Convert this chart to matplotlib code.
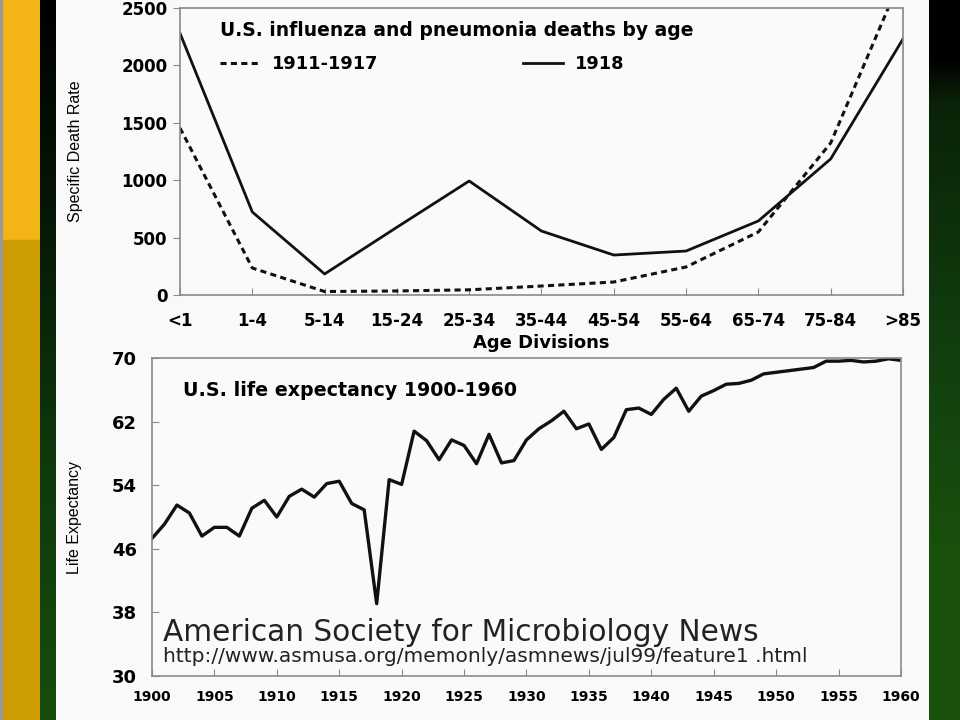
import numpy as np
import matplotlib
matplotlib.use("Agg")
import matplotlib.pyplot as plt
from matplotlib.patches import Rectangle
from matplotlib.colors import LinearSegmentedColormap

# influenza / pneumonia specific death rate by age group
age_groups = ['<1', '1-4', '5-14', '15-24', '25-34', '35-44', '45-54',
              '55-64', '65-74', '75-84', '>85']
deaths_1911_1917 = [1455, 235, 30, 35, 45, 78, 113, 244, 549, 1324, 2800]
deaths_1918 = [2280, 723, 183, 590, 993, 557, 348, 383, 645, 1185, 2230]

# US life expectancy 1900-1960
years = list(range(1900, 1961))
life_exp = [47.3, 49.1, 51.5, 50.5, 47.6, 48.7, 48.7, 47.6, 51.1, 52.1,
            50.0, 52.6, 53.5, 52.5, 54.2, 54.5, 51.7, 50.9, 39.1, 54.7,
            54.1, 60.8, 59.6, 57.2, 59.7, 59.0, 56.7, 60.4, 56.8, 57.1,
            59.7, 61.1, 62.1, 63.3, 61.1, 61.7, 58.5, 60.0, 63.5, 63.7,
            62.9, 64.8, 66.2, 63.3, 65.2, 65.9, 66.7, 66.8, 67.2, 68.0,
            68.2, 68.4, 68.6, 68.8, 69.6, 69.6, 69.7, 69.5, 69.6, 69.9,
            69.7]
year_ticks = list(range(1900, 1961, 5))
life_ticks = [30, 38, 46, 54, 62, 70]

BOLD = 'DejaVu Sans'
PLAIN = 'Liberation Sans'

fig = plt.figure(figsize=(9.6, 7.2), dpi=100)

# slide background
bg = fig.add_axes([0, 0, 1, 1], zorder=-5)
bg.axis('off')
bg.add_patch(Rectangle((0, 0), 960, 720, color='#f9f9f9', zorder=0))
bg.add_patch(Rectangle((0, 0), 40, 240, color='#f2b515', zorder=1))
bg.add_patch(Rectangle((0, 240), 40, 480, color='#cc9c00', zorder=1))
bg.add_patch(Rectangle((0, 0), 1.5, 720, color='#999999', zorder=1))
left_green = LinearSegmentedColormap.from_list(
    'lg', [(0, '#000000'), (0.3, '#061806'), (0.65, '#0f3a0c'),
           (1, '#174d0c')])
right_green = LinearSegmentedColormap.from_list(
    'rg', [(0, '#000000'), (0.08, '#000000'), (0.14, '#0a2208'),
           (0.5, '#124010'), (0.8, '#1a520c'), (1, '#1a520c')])
grad = np.linspace(0, 1, 256).reshape(-1, 1)
bg.imshow(grad, extent=(40, 56, 720, 0), aspect='auto', cmap=left_green,
          zorder=2)
bg.imshow(grad, extent=(929, 960, 720, 0), aspect='auto', cmap=right_green,
          zorder=2)
bg.set_xlim(0, 960)
bg.set_ylim(720, 0)


def style(ax):
    ax.set_facecolor('#fafafa')
    for s in ax.spines.values():
        s.set_color('#8a8a8a')
        s.set_linewidth(1.2)


# --- top: deaths by age ---
ax1 = fig.add_axes([0.1875, 0.5903, 0.7531, 0.3986])
style(ax1)
x = np.arange(len(age_groups))
ax1.plot(x, deaths_1911_1917, color='#111111', lw=2.2, ls=(0, (2.0, 1.4)),
         label='1911-1917')
ax1.plot(x, deaths_1918, color='#111111', lw=2.0, label='1918')
ax1.set_xlim(0, len(age_groups) - 1)
ax1.set_ylim(0, 2500)
ax1.set_xticks(x)
ax1.set_xticklabels(age_groups)
ax1.set_yticks([0, 500, 1000, 1500, 2000, 2500])
ax1.tick_params(axis='x', direction='in', length=5, color='#8a8a8a', pad=12,
                labelsize=12)
ax1.tick_params(axis='y', direction='out', length=5, color='#8a8a8a', pad=4,
                labelsize=12)
for lab in ax1.get_xticklabels() + ax1.get_yticklabels():
    lab.set_fontweight('bold')
    lab.set_family(BOLD)
ax1.set_xlabel('Age Divisions', fontsize=13, fontweight='bold',
               family=BOLD, labelpad=3)
ax1.set_ylabel('Specific Death Rate', fontsize=11.5, family=PLAIN)
ax1.yaxis.set_label_coords(-0.134, 0.502)
ax1.text(0.055, 0.923, 'U.S. influenza and pneumonia deaths by age',
         transform=ax1.transAxes, fontsize=13.5, fontweight='bold',
         family=BOLD, va='center', ha='left')
ax1.legend(loc='center left', bbox_to_anchor=(0.055, 0.805), ncol=2,
           frameon=False, borderpad=0, borderaxespad=0, handlelength=2.3,
           handletextpad=0.65, columnspacing=8.1,
           prop={'family': BOLD, 'weight': 'bold', 'size': 12.8})

# --- bottom: life expectancy ---
ax2 = fig.add_axes([0.1583, 0.0611, 0.7802, 0.4417])
style(ax2)
ax2.plot(years, life_exp, color='#111111', lw=2.4)
ax2.set_xlim(1900, 1960)
ax2.set_ylim(30, 70)
ax2.set_xticks(year_ticks)
ax2.set_yticks(life_ticks)
ax2.tick_params(direction='in', length=5, color='#8a8a8a')
ax2.tick_params(axis='x', pad=10, labelsize=10)
ax2.tick_params(axis='y', pad=11, labelsize=13)
for lab in ax2.get_xticklabels() + ax2.get_yticklabels():
    lab.set_fontweight('bold')
    lab.set_family(BOLD)
ax2.set_ylabel('Life Expectancy', fontsize=11.5, family=PLAIN)
ax2.yaxis.set_label_coords(-0.0935, 0.497)
ax2.text(0.041, 0.899, 'U.S. life expectancy 1900-1960',
         transform=ax2.transAxes, fontsize=13.7, fontweight='bold',
         family=BOLD, va='center', ha='left')
ax2.text(0.0147, 0.138, 'American Society for Microbiology News',
         transform=ax2.transAxes, fontsize=21.3, family='DejaVu Sans',
         color='#222222', va='center', ha='left')
ax2.text(0.0147, 0.06,
         'http://www.asmusa.org/memonly/asmnews/jul99/feature1 .html',
         transform=ax2.transAxes, fontsize=14.5, family='DejaVu Sans',
         color='#222222', va='center', ha='left')

fig.savefig('out.png', dpi=100)
